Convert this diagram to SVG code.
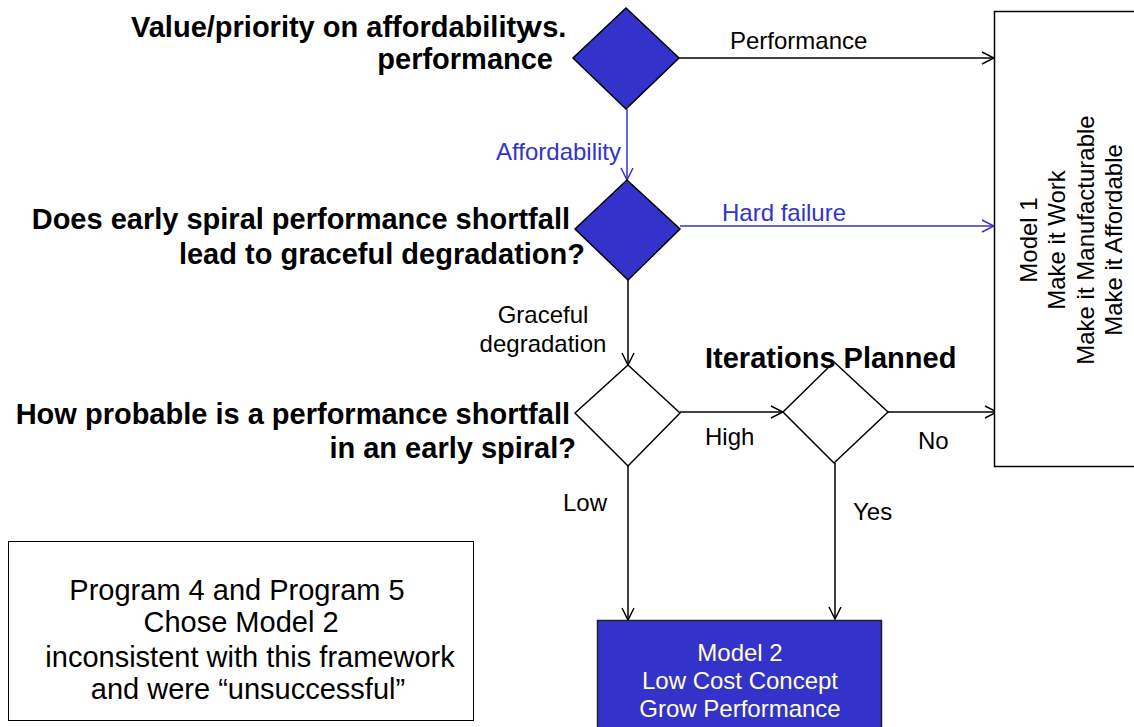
<svg xmlns="http://www.w3.org/2000/svg" width="1134" height="727" viewBox="0 0 1134 727">
<style>
text{font-family:"Liberation Sans",Arial,sans-serif}
.q{font-size:29px;font-weight:bold;fill:#000}
.lb{font-size:24px;fill:#000}
.lbb{font-size:24px;fill:#3333CC}
.bx{font-size:24px;fill:#000}
.m2{font-size:24px;fill:#FFFFCC}
.pg{font-size:29px;fill:#000}
.dk{fill:#3333CC;stroke:#000;stroke-width:1.5}
.dw{fill:#fff;stroke:#000;stroke-width:1.5}
.cb{stroke:#000;stroke-width:1.5;fill:none}
.cu{stroke:#3333CC;stroke-width:1.5;fill:none}
</style>
<defs>
<marker id="ab" viewBox="0 0 14 14" refX="13" refY="7" markerWidth="14" markerHeight="14" markerUnits="userSpaceOnUse" orient="auto">
<path d="M1,1 L13,7 L1,13" fill="none" stroke="#000" stroke-width="1.5"/>
</marker>
<marker id="au" viewBox="0 0 14 14" refX="13" refY="7" markerWidth="14" markerHeight="14" markerUnits="userSpaceOnUse" orient="auto">
<path d="M1,1 L13,7 L1,13" fill="none" stroke="#3333CC" stroke-width="1.5"/>
</marker>
</defs>
<rect width="1134" height="727" fill="#fff"/>

<g id="connectors">
<line class="cb" x1="679" y1="58" x2="994" y2="58" marker-end="url(#ab)"/>
<line class="cu" x1="627" y1="109" x2="627" y2="180" marker-end="url(#au)"/>
<line class="cu" x1="680" y1="226" x2="994" y2="226" marker-end="url(#au)"/>
<line class="cb" x1="628" y1="280" x2="628" y2="365" marker-end="url(#ab)"/>
<line class="cb" x1="680" y1="412" x2="783" y2="412" marker-end="url(#ab)"/>
<line class="cb" x1="888" y1="412" x2="997" y2="412" marker-end="url(#ab)"/>
<line class="cb" x1="628" y1="466" x2="628" y2="620" marker-end="url(#ab)"/>
<line class="cb" x1="835" y1="463" x2="835" y2="619" marker-end="url(#ab)"/>
<text class="lb" x="730" y="49">Performance</text>
<text class="lbb" x="621" y="160" text-anchor="end">Affordability</text>
<text class="lbb" x="722" y="221">Hard failure</text>
<text class="lb" x="543" y="323" text-anchor="middle">Graceful</text>
<text class="lb" x="543" y="352" text-anchor="middle">degradation</text>
<text class="lb" x="705" y="445">High</text>
<text class="lb" x="918" y="449">No</text>
<text class="lb" x="563" y="511">Low</text>
<text class="lb" x="853" y="520">Yes</text>
</g>

<g id="q1">
<polygon class="dk" points="626,8 679,58 626,109 573,58"/>
<text class="q" y="37"><tspan x="131">Value/priority on affordability</tspan><tspan x="526">vs.</tspan></text>
<text class="q" x="553" y="69" text-anchor="end">performance</text>
</g>

<g id="q2">
<polygon class="dk" points="627,180 680,229 628,280 575,229"/>
<text class="q" x="570" y="229" text-anchor="end">Does early spiral performance shortfall</text>
<text class="q" x="585" y="264" text-anchor="end">lead to graceful degradation?</text>
</g>

<g id="q3">
<polygon class="dw" points="628,365 680,413 628,466 575,413"/>
<text class="q" x="570" y="424" text-anchor="end">How probable is a performance shortfall</text>
<text class="q" x="576" y="458" text-anchor="end">in an early spiral?</text>
</g>

<g id="q4">
<polygon class="dw" points="834,362 888,412 834,463 783,412"/>
<text class="q" x="705" y="368">Iterations Planned</text>
</g>

<g id="model1">
<rect x="994.5" y="11.5" width="150" height="455" fill="#fff" stroke="#000" stroke-width="1.5"/>
<g transform="translate(1070,240) rotate(-90)">
<text class="bx" x="0" y="-33" text-anchor="middle">Model 1</text>
<text class="bx" x="0" y="-5" text-anchor="middle">Make it Work</text>
<text class="bx" x="0" y="24" text-anchor="middle">Make it Manufacturable</text>
<text class="bx" x="0" y="52" text-anchor="middle">Make it Affordable</text>
</g>
</g>

<g id="model2">
<rect x="597.5" y="620.5" width="284" height="120" fill="#3333CC" stroke="#222" stroke-width="1.5"/>
<text class="m2" x="740" y="661" text-anchor="middle">Model 2</text>
<text class="m2" x="740" y="689" text-anchor="middle">Low Cost Concept</text>
<text class="m2" x="740" y="717" text-anchor="middle">Grow Performance</text>
</g>

<g id="note">
<rect x="8.5" y="541.5" width="465" height="179" fill="#fff" stroke="#000" stroke-width="1"/>
<text class="pg" x="237" y="600" text-anchor="middle">Program 4 and Program 5</text>
<text class="pg" x="241" y="632" text-anchor="middle">Chose Model 2</text>
<text class="pg" x="250" y="667" text-anchor="middle">inconsistent with this framework</text>
<text class="pg" x="248" y="699" text-anchor="middle">and were “unsuccessful”</text>
</g>
</svg>
